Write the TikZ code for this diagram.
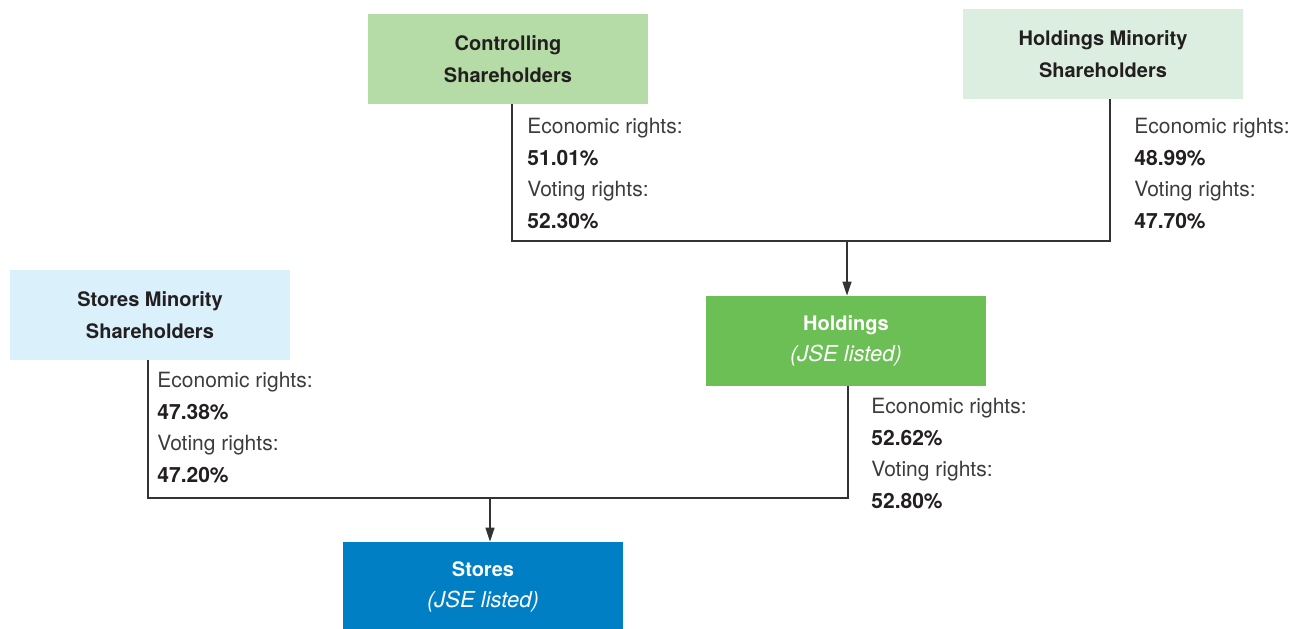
\documentclass[tikz,border=0pt]{standalone}
\usepackage{fontspec}
\setmainfont{TeX Gyre Heros}
\usetikzlibrary{arrows.meta}
\definecolor{ctrlgreen}{HTML}{B5DBA6}
\definecolor{minorgreen}{HTML}{DCEEE0}
\definecolor{minorblue}{HTML}{DAF0FB}
\definecolor{holdgreen}{HTML}{6CBF55}
\definecolor{storeblue}{HTML}{007FC5}
\definecolor{textdark}{HTML}{231F20}
\definecolor{textgray}{HTML}{3C3C3C}
\definecolor{linegray}{HTML}{333333}
\newcommand{\rights}[2]{Economic rights:\\\textcolor{textdark}{\bfseries #1}\\Voting rights:\\\textcolor{textdark}{\bfseries #2}}
\newcommand{\jse}{{\mdseries\itshape\fontsize{11}{15.8}\selectfont (JSE listed)}}
\tikzset{box/.style = {minimum width=140pt, minimum height=45pt, inner sep=0pt,
                       align=center, text=textdark,
                       font=\bfseries\fontsize{10}{15.8}\selectfont},
         listed/.style = {box, text=white},
         rights/.style = {anchor=north west, inner sep=0pt, align=left, text=textgray,
                          font=\fontsize{10.5}{15.8}\selectfont},
         link/.style = {draw=linegray, line width=0.75pt},
         feed/.style = {link, -{Triangle[length=7pt,width=4.5pt]}}}

\begin{document}
\begin{tikzpicture}[x=0.5pt, y=-0.5pt]
    \useasboundingbox (0,0) rectangle (1290,628);

    \node[box, fill=ctrlgreen] (ctrl) at (508,59) {Controlling\\Shareholders};
    \node[box, fill=minorgreen] (hmin) at (1103,54) {Holdings Minority\\Shareholders};
    \node[box, fill=minorblue] (smin) at (150,315) {Stores Minority\\Shareholders};
    \node[listed, fill=holdgreen] (hold) at (846,341) {Holdings\\\jse};
    \node[listed, fill=storeblue] (stores) at (483,587) {Stores\\\jse};

    \coordinate (j1) at (847,241);
    \coordinate (j2) at (490,498);
    \draw[link] ([xshift=2pt]ctrl.south) |- (j1) -| ([xshift=3.5pt]hmin.south);
    \draw[feed] (j1) -- (hold.north -| j1);
    \draw[link] ([xshift=-1pt]smin.south) |- (j2) -| ([xshift=1pt]hold.south);
    \draw[feed] (j2) -- (stores.north -| j2);

    \node[rights] (ctrlr) at (527,118) {\rights{51.01\%}{52.30\%}};
    \node[rights] (hminr) at (1134,118) {\rights{48.99\%}{47.70\%}};
    \node[rights] (sminr) at (157,372) {\rights{47.38\%}{47.20\%}};
    \node[rights] (holdr) at (871,398) {\rights{52.62\%}{52.80\%}};
  \end{tikzpicture}
\end{document}
